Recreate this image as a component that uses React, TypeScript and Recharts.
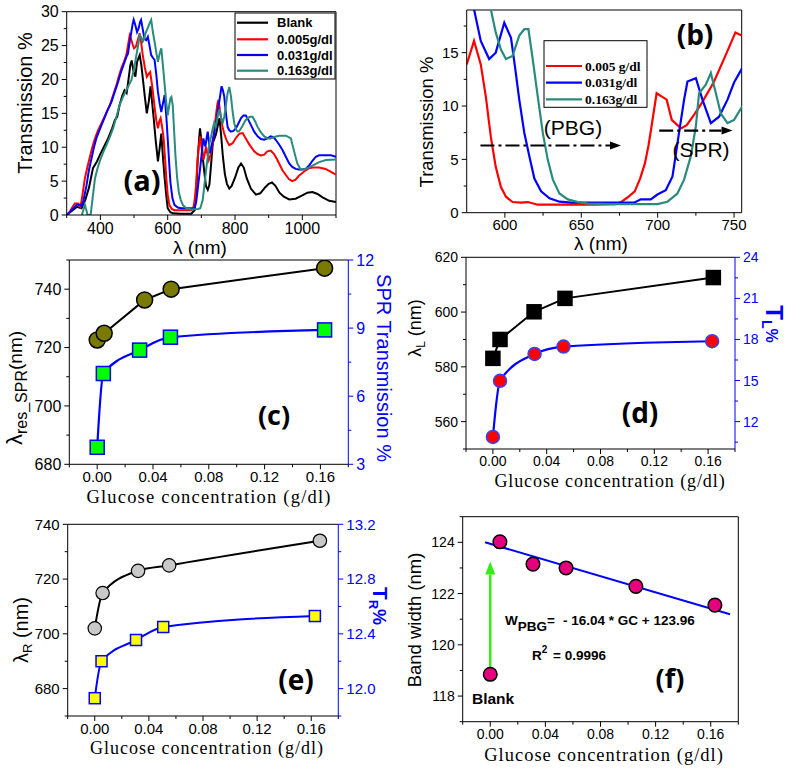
import React from 'react';
import { ComposedChart, Line, XAxis, YAxis, ReferenceLine } from 'recharts';

const SANS = '"Liberation Sans", Arial, sans-serif';
const SERIF = '"Liberation Serif", "Times New Roman", serif';
const BOLD_LETTER = '"Open Sans", "Liberation Sans", sans-serif';
const BLUE = '#0000ff';
const RED = '#ff0000';
const TEAL = '#2a8a7e';

// ---- panel (a): full spectra, [lambda nm, transmission %]
const blankA: number[][] = [
  [302, 0.1], [315, 0.6], [330, 1.2], [344, 1.0], [355, 2.2], [366, 4.0], [378, 6.9], [390, 7.9], [398, 8.8],
  [410, 10.0], [423, 11.3], [435, 12.8], [443, 14.0], [450, 14.5], [457, 16.2], [465, 17.6], [472, 18.4],
  [478, 18.0], [482, 19.4], [489, 22.1], [493, 22.8], [499, 21.1], [504, 20.4], [509, 22.6], [517, 23.6],
  [522, 22.0], [526, 20.2], [532, 17.5], [538, 15.0], [544, 16.8], [549, 19.0], [553, 17.0], [558, 14.5],
  [564, 11.2], [571, 7.9], [576, 9.8], [581, 12.0], [586, 8.5], [591, 5.4], [596, 2.8], [600, 1.0], [608, 0.4],
  [615, 0.25], [640, 0.2], [670, 0.2], [680, 0.7], [685, 3.5], [689, 8.1], [693, 11.0], [696, 12.8], [700, 11.0],
  [705, 8.1], [710, 5.8], [714, 4.2], [719, 3.7], [724, 4.5], [729, 7.5], [734, 10.6], [744, 12.0], [750, 13.5],
  [754, 14.3], [759, 11.6], [764, 8.6], [770, 6.0], [776, 4.6], [783, 3.9], [790, 4.3], [800, 5.5], [810, 7.0],
  [818, 7.6], [826, 7.0], [835, 5.4], [847, 3.9], [862, 3.0], [875, 3.2], [890, 4.1], [900, 4.6], [910, 4.8],
  [920, 4.3], [932, 3.3], [945, 2.7], [961, 2.3], [980, 2.4], [1000, 2.9], [1015, 3.3], [1030, 3.4], [1045, 3.1],
  [1060, 2.6], [1080, 2.1], [1100, 1.9],
];
const red005A: number[][] = [
  [300, 0], [305, 0.1], [315, 1.0], [324, 1.7], [334, 1.7], [341, 1.2], [347, 3.0], [354, 5.4], [362, 7.2],
  [369, 8.6], [376, 10.0], [384, 11.3], [393, 12.5], [403, 13.5], [415, 14.8], [428, 16.2], [438, 17.7],
  [448, 19.2], [455, 20.5], [462, 21.6], [470, 22.6], [477, 23.6], [482, 25.0], [487, 26.5], [491, 26.0],
  [495, 25.3], [500, 24.6], [505, 24.8], [511, 25.8], [517, 26.8], [521, 25.5], [526, 23.6], [532, 21.8],
  [538, 20.4], [543, 20.8], [548, 21.1], [554, 19.0], [561, 16.0], [566, 14.0], [571, 12.8], [575, 13.8],
  [579, 14.3], [584, 12.8], [588, 11.3], [592, 8.5], [596, 5.4], [600, 3.0], [605, 1.5], [612, 0.9], [620, 0.7],
  [640, 0.7], [670, 0.7], [676, 1.0], [680, 2.2], [684, 4.2], [688, 7.5], [692, 10.1], [697, 11.6], [701, 9.8],
  [706, 8.1], [710, 9.0], [714, 10.1], [718, 9.0], [722, 8.1], [728, 9.0], [734, 10.6], [739, 12.8], [744, 15.0],
  [748, 16.5], [751, 17.0], [755, 15.5], [758, 14.5], [763, 13.0], [768, 12.0], [775, 11.0], [783, 10.3],
  [793, 10.6], [803, 11.4], [813, 12.0], [823, 12.1], [832, 11.3], [840, 10.6], [847, 10.1], [857, 9.4],
  [867, 9.0], [877, 8.8], [887, 8.9], [896, 9.4], [906, 9.5], [916, 9.0], [924, 8.3], [931, 7.6], [941, 6.6],
  [951, 5.9], [960, 5.3], [970, 5.0], [980, 5.2], [990, 5.8], [1000, 6.2], [1010, 6.6], [1020, 6.9], [1030, 7.0],
  [1049, 7.0], [1069, 6.8], [1080, 6.5], [1094, 6.1], [1100, 6.0],
];
const blue031A: number[][] = [
  [300, 0], [310, 0.5], [320, 1.0], [330, 1.5], [339, 1.5], [345, 1.3], [350, 2.2], [359, 4.4], [366, 6.6],
  [374, 8.4], [381, 10.0], [388, 11.3], [398, 12.6], [408, 13.8], [420, 15.3], [433, 16.7], [443, 18.2],
  [453, 19.7], [462, 21.2], [472, 22.6], [477, 23.3], [482, 23.8], [487, 25.5], [492, 27.0], [496, 28.2],
  [499, 28.8], [504, 28.0], [509, 27.0], [514, 27.6], [518, 28.5], [521, 28.8], [526, 27.4], [531, 26.0],
  [536, 25.8], [541, 26.3], [546, 25.0], [551, 23.6], [556, 23.2], [561, 22.9], [566, 20.8], [571, 18.2],
  [576, 16.5], [581, 15.2], [586, 16.5], [591, 17.7], [596, 14.5], [600, 11.3], [604, 8.0], [608, 4.9],
  [614, 2.5], [620, 1.5], [630, 1.1], [640, 1.0], [680, 1.0], [685, 2.0], [690, 4.2], [695, 6.3], [699, 8.1],
  [703, 10.0], [706, 11.3], [709, 10.6], [712, 10.1], [716, 11.5], [719, 12.3], [723, 10.5], [726, 9.1],
  [730, 10.0], [734, 11.1], [740, 12.5], [744, 13.5], [749, 15.5], [754, 17.0], [760, 19.0], [764, 18.4],
  [768, 17.5], [773, 15.0], [778, 13.0], [783, 12.5], [788, 12.3], [795, 12.4], [803, 12.8], [810, 13.5],
  [818, 14.3], [825, 14.7], [832, 14.7], [840, 14.0], [847, 13.3], [857, 12.3], [867, 11.6], [877, 11.2],
  [887, 11.1], [896, 11.3], [906, 11.6], [914, 11.5], [921, 11.1], [931, 10.4], [941, 9.6], [951, 8.6],
  [961, 7.6], [970, 7.1], [980, 6.8], [990, 6.7], [1000, 6.7], [1010, 6.8], [1020, 7.3], [1030, 8.0],
  [1040, 8.6], [1050, 8.8], [1069, 8.8], [1085, 8.8], [1100, 8.6],
];
const teal163A: number[][] = [
  [345, 0], [350, 0.8], [354, 1.5], [358, 0.8], [362, 0], [371, 0], [377, 2.5], [384, 5.4], [391, 6.8],
  [398, 7.9], [408, 9.2], [418, 10.3], [428, 11.5], [438, 12.8], [447, 14.4], [457, 16.2], [467, 17.4],
  [477, 18.4], [485, 19.2], [492, 19.9], [500, 21.5], [507, 23.6], [512, 25.0], [517, 26.5], [522, 26.2],
  [526, 25.6], [530, 26.0], [534, 26.8], [539, 27.4], [544, 28.0], [548, 28.5], [551, 28.8], [556, 27.0],
  [561, 25.6], [566, 24.0], [571, 22.6], [576, 23.8], [581, 24.6], [586, 22.0], [591, 19.2], [596, 16.5],
  [600, 14.7], [604, 16.0], [608, 17.2], [611, 17.4], [615, 16.2], [619, 12.5], [623, 8.8], [628, 5.5],
  [633, 3.4], [639, 2.2], [645, 1.5], [655, 1.0], [670, 0.8], [690, 0.9], [697, 1.0], [704, 2.2], [709, 4.4],
  [714, 6.6], [719, 8.6], [724, 10.6], [729, 11.6], [734, 12.8], [738, 13.6], [742, 13.0], [746, 13.8],
  [750, 15.0], [754, 15.6], [758, 14.5], [763, 13.5], [768, 14.5], [773, 16.2], [778, 18.0], [783, 18.9],
  [788, 17.5], [793, 15.2], [798, 13.5], [803, 12.6], [808, 12.3], [813, 12.4], [823, 13.2], [830, 13.9],
  [837, 14.3], [845, 14.5], [852, 14.5], [860, 13.8], [867, 13.0], [877, 12.2], [887, 11.6], [897, 11.3],
  [906, 11.3], [916, 11.5], [931, 11.7], [951, 11.7], [966, 11.3], [975, 9.5], [985, 7.6], [995, 6.7],
  [1010, 6.8], [1030, 7.3], [1050, 7.8], [1070, 8.1], [1100, 8.2],
];

// ---- panel (b): zoom on the band gap
const red005B: number[][] = [
  [575, 13.9], [579.8, 16.1], [584.2, 13.9], [587.5, 10.9], [590.8, 7.1], [594, 4.3], [597.4, 2.4], [600.7, 1.5],
  [605, 1.0], [610.5, 0.94], [615, 1.0], [621.5, 0.75], [640, 0.75], [660, 0.75], [672, 0.8], [676, 1.0],
  [680, 1.4], [685, 2.0], [688.5, 3.2], [691.6, 4.6], [694, 6.3], [696, 8.1], [699.3, 11.2], [702.5, 10.9],
  [705.9, 10.6], [709.2, 8.7], [715.3, 7.9], [719, 8.2], [723.9, 9.2], [728.9, 10.3], [736.6, 12.2],
  [744.3, 14.7], [750.9, 16.9], [755, 16.6],
];
const blue031B: number[][] = [
  [576, 22], [579.8, 19.06], [584.2, 16.1], [589.7, 14.4], [594, 15.0], [599.6, 17.8], [604, 16.4], [606.6, 13.7],
  [609.4, 10.6], [612.7, 7.5], [616, 5.3], [619.3, 3.2], [623.7, 2.0], [629.2, 1.35], [635.7, 1.03],
  [643.4, 0.94], [660, 0.94], [684.5, 0.94], [689, 1.25], [695.5, 1.25], [699.8, 1.7], [705.3, 2.1],
  [709.7, 3.4], [714, 7.5], [717.3, 10.6], [719.5, 12.3], [725, 12.6], [729.3, 10.6], [734.8, 8.4],
  [740.2, 9.0], [745.7, 10.6], [750, 12.2], [755.5, 13.6],
];
const teal163B: number[][] = [
  [588, 21], [590.8, 19.06], [594, 16.9], [597.4, 15.3], [600.7, 14.4], [605, 14.7], [609.4, 16.6], [612.7, 17.2],
  [615.4, 17.2], [618.2, 14.4], [621.5, 10.9], [624.8, 7.5], [628, 5.0], [631.4, 3.1], [635.7, 1.8],
  [641.2, 1.25], [647.8, 1.0], [654.4, 0.85], [670, 0.8], [690, 0.8], [699.8, 0.8], [706.4, 1.03],
  [712.9, 1.8], [717.3, 3.1], [721.7, 5.3], [725, 8.1], [727.1, 11.2], [731.5, 12.0], [734.8, 13.1],
  [738.1, 11.2], [741.3, 9.3], [745.7, 8.4], [750, 8.7], [755.5, 10.0],
];
const pbgArrow = [{ x: 584, y: 6.3 }, { x: 676, y: 6.3 }];
const sprArrow = [{ x: 701, y: 7.7 }, { x: 749, y: 7.7 }];

// ---- panel (c)
const concC = [0, 0.005, 0.034, 0.053, 0.163];
const lambdaResC = [722.6, 724.9, 736.3, 740, 747.2];
const concSqC = [0, 0.0044, 0.0304, 0.0525, 0.163];
const sprTransC = [3.75, 7.0, 8.03, 8.6, 8.92];

// ---- panel (d)
const concD = [0, 0.0053, 0.0306, 0.0536, 0.1639];
const lambdaLD = [583.1, 590, 600.1, 605, 612.6];
const concRedD = [0, 0.0053, 0.031, 0.0525, 0.163];
const tLD = [10.88, 14.98, 16.94, 17.48, 17.87];

// ---- panel (e)
const concE = [0, 0.0058, 0.032, 0.055, 0.1664];
const lambdaRE = [702, 714.9, 723, 725, 734];
const concYelE = [0, 0.005, 0.0305, 0.0506, 0.1627];
const tRE = [11.93, 12.2, 12.355, 12.45, 12.53];

// ---- panel (f)
const concF = [0, 0.007, 0.031, 0.055, 0.1057, 0.163];
const bandF = [118.85, 124.02, 123.15, 123.0, 122.28, 121.55];
const fitConcF = [-0.0038, 0.174];
const fitBandF = [124.0, 121.19];
const blankArrow = [{ x: 0, y: 119.1 }, { x: 0, y: 123.25 }];

const GC_MAJOR = [0, 0.04, 0.08, 0.12, 0.16];
const GC_TICKS = [-0.02, 0, 0.02, 0.04, 0.06, 0.08, 0.1, 0.12, 0.14, 0.16, 0.18];

const toPts = (arr: number[][]) => arr.map(([x, y]) => ({ x, y }));
const zip = (xs: number[], ys: number[]) => xs.map((x, i) => ({ x, y: ys[i] }));

function tickFactory(side: 'bottom' | 'left' | 'right', majors: number[], fmt: (v: number) => string, fs: number, color = '#000') {
  return (p: any) => {
    const v = Number(p.payload.value);
    const isMajor = majors.some((m) => Math.abs(m - v) < 1e-6);
    const len = isMajor ? 5 : 3;
    const { x, y } = p;
    if (side === 'bottom') {
      return (
        <g>
          <line x1={x} y1={y} x2={x} y2={y + len} stroke={color} strokeWidth={1} />
          {isMajor && (
            <text x={x} y={y + 4.5 + fs * 0.88} textAnchor="middle" fontSize={fs} fontFamily={SANS} fill={color}>
              {fmt(v)}
            </text>
          )}
        </g>
      );
    }
    const dir = side === 'left' ? -1 : 1;
    return (
      <g>
        <line x1={x} y1={y} x2={x + dir * len} y2={y} stroke={color} strokeWidth={1} />
        {isMajor && (
          <text x={x + dir * 8} y={y + fs * 0.36} textAnchor={side === 'left' ? 'end' : 'start'} fontSize={fs} fontFamily={SANS} fill={color}>
            {fmt(v)}
          </text>
        )}
      </g>
    );
  };
}

const circleDot = (r: number, fill: string, stroke: string, sw = 1.5) => (p: any) => (
  <circle key={p.index} cx={p.cx} cy={p.cy} r={r} fill={fill} stroke={stroke} strokeWidth={sw} />
);
const squareDot = (s: number, fill: string, stroke: string) => (p: any) => (
  <rect key={p.index} x={p.cx - s / 2} y={p.cy - s / 2} width={s} height={s} fill={fill} stroke={stroke} strokeWidth={1.5} />
);

const arrowShape = (color: string, dash: string | undefined, width: number, head: number, half: number) => (p: any) => {
  const { x1, y1, x2, y2 } = p;
  const ang = Math.atan2(y2 - y1, x2 - x1);
  const bx = x2 - head * Math.cos(ang);
  const by = y2 - head * Math.sin(ang);
  const px = -Math.sin(ang) * half;
  const py = Math.cos(ang) * half;
  return (
    <g>
      <line x1={x1} y1={y1} x2={bx} y2={by} stroke={color} strokeWidth={width} strokeDasharray={dash} />
      <polygon points={`${x2},${y2} ${bx + px},${by + py} ${bx - px},${by - py}`} fill={color} />
    </g>
  );
};

const axisCommon = {
  type: 'number' as const,
  interval: 0 as const,
  allowDataOverflow: true,
  tickLine: false,
  tickSize: 0,
  tickMargin: 0,
};

const fmt0 = (v: number) => String(Math.round(v));
const fmt1 = (v: number) => v.toFixed(1);
const fmt2 = (v: number) => v.toFixed(2);

const pos = (x: number, y: number): React.CSSProperties => ({ position: 'absolute', left: x, top: y });

export default function App() {
  return (
    <div style={{ position: 'absolute', left: 0, top: 0, width: 787, height: 771, background: '#fff', overflow: 'hidden' }}>
      {/* (a) */}
      <div style={pos(0, 0)}>
        <ComposedChart width={393} height={250} margin={{ top: 11.7, left: 56.7, right: 57, bottom: 25 }}>
          <XAxis {...axisCommon} dataKey="x" domain={[300, 1100]} height={10}
            ticks={[300, 400, 500, 600, 700, 800, 900, 1000, 1100]}
            tick={tickFactory('bottom', [400, 600, 800, 1000], fmt0, 16)} axisLine={{ stroke: '#000' }} />
          <YAxis {...axisCommon} domain={[0, 30]} width={10}
            ticks={[0, 2.5, 5, 7.5, 10, 12.5, 15, 17.5, 20, 22.5, 25, 27.5, 30]}
            tick={tickFactory('left', [0, 5, 10, 15, 20, 25, 30], fmt0, 16)} axisLine={{ stroke: '#000' }} />
          <ReferenceLine y={30} stroke="#000" />
          <ReferenceLine x={1100} stroke="#000" />
          <Line data={toPts(blankA)} dataKey="y" stroke="#000" strokeWidth={2} dot={false} isAnimationActive={false} />
          <Line data={toPts(red005A)} dataKey="y" stroke={RED} strokeWidth={2} dot={false} isAnimationActive={false} />
          <Line data={toPts(blue031A)} dataKey="y" stroke={BLUE} strokeWidth={2} dot={false} isAnimationActive={false} />
          <Line data={toPts(teal163A)} dataKey="y" stroke={TEAL} strokeWidth={2} dot={false} isAnimationActive={false} />
        </ComposedChart>
      </div>

      {/* (b) */}
      <div style={pos(393, 0)}>
        <ComposedChart width={394} height={250} margin={{ top: 10, left: 63.7, right: 45.3, bottom: 27.3 }}>
          <XAxis {...axisCommon} dataKey="x" domain={[575, 755]} height={10}
            ticks={[600, 625, 650, 675, 700, 725, 750]}
            tick={tickFactory('bottom', [600, 650, 700, 750], fmt0, 15)} axisLine={{ stroke: '#000' }} />
          <YAxis {...axisCommon} domain={[0, 19]} width={10}
            ticks={[0, 2.5, 5, 7.5, 10, 12.5, 15, 17.5]}
            tick={tickFactory('left', [0, 5, 10, 15], fmt0, 15)} axisLine={{ stroke: '#000' }} />
          <ReferenceLine y={19} stroke="#000" />
          <ReferenceLine x={755} stroke="#000" />
          <Line data={toPts(red005B)} dataKey="y" stroke={RED} strokeWidth={2.2} dot={false} isAnimationActive={false} />
          <Line data={toPts(blue031B)} dataKey="y" stroke={BLUE} strokeWidth={2.2} dot={false} isAnimationActive={false} />
          <Line data={toPts(teal163B)} dataKey="y" stroke={TEAL} strokeWidth={2.2} dot={false} isAnimationActive={false} />
          <ReferenceLine segment={pbgArrow} shape={arrowShape('#000', '14 4 3 4', 2.2, 11, 4)} />
          <ReferenceLine segment={sprArrow} shape={arrowShape('#000', '14 4 3 4', 2.2, 11, 4)} />
        </ComposedChart>
      </div>

      {/* (c) */}
      <div style={pos(0, 250)}>
        <ComposedChart width={393} height={258} margin={{ top: 10, left: 59.3, right: 34.7, bottom: 33.7 }}>
          <XAxis {...axisCommon} dataKey="x" domain={[-0.02, 0.18]} height={10} ticks={GC_TICKS}
            tick={tickFactory('bottom', GC_MAJOR, fmt2, 15)} axisLine={{ stroke: '#000' }} />
          <YAxis {...axisCommon} yAxisId="l" domain={[680, 750]} width={10}
            ticks={[680, 690, 700, 710, 720, 730, 740, 750]}
            tick={tickFactory('left', [680, 700, 720, 740], fmt0, 16)} axisLine={{ stroke: '#000' }} />
          <YAxis {...axisCommon} yAxisId="r" orientation="right" domain={[3, 12]} width={10}
            ticks={[3, 4.5, 6, 7.5, 9, 10.5, 12]}
            tick={tickFactory('right', [3, 6, 9, 12], fmt0, 16, BLUE)} axisLine={{ stroke: BLUE }} />
          <ReferenceLine yAxisId="l" y={750} stroke="#000" />
          <Line yAxisId="l" data={zip(concC, lambdaResC)} dataKey="y" stroke="#000" strokeWidth={2}
            dot={circleDot(8, '#7a7a00', '#000')} isAnimationActive={false} />
          <Line yAxisId="r" type="monotone" data={zip(concSqC, sprTransC)} dataKey="y" stroke={BLUE} strokeWidth={2.2}
            dot={squareDot(14, '#00ff00', BLUE)} isAnimationActive={false} />
        </ComposedChart>
      </div>

      {/* (d) */}
      <div style={pos(393, 250)}>
        <ComposedChart width={394} height={258} margin={{ top: 7.3, left: 63, right: 42, bottom: 49 }}>
          <XAxis {...axisCommon} dataKey="x" domain={[-0.02, 0.18]} height={10} ticks={GC_TICKS}
            tick={tickFactory('bottom', GC_MAJOR, fmt2, 14)} axisLine={{ stroke: '#000' }} />
          <YAxis {...axisCommon} yAxisId="l" domain={[550, 620]} width={10}
            ticks={[550, 560, 570, 580, 590, 600, 610, 620]}
            tick={tickFactory('left', [560, 580, 600, 620], fmt0, 14)} axisLine={{ stroke: '#000' }} />
          <YAxis {...axisCommon} yAxisId="r" orientation="right" domain={[10, 24]} width={10}
            ticks={[10.5, 12, 13.5, 15, 16.5, 18, 19.5, 21, 22.5, 24]}
            tick={tickFactory('right', [12, 15, 18, 21, 24], fmt0, 14, BLUE)} axisLine={{ stroke: BLUE }} />
          <ReferenceLine yAxisId="l" y={620} stroke="#000" />
          <Line yAxisId="l" data={zip(concD, lambdaLD)} dataKey="y" stroke="#000" strokeWidth={2}
            dot={squareDot(14, '#000', '#000')} isAnimationActive={false} />
          <Line yAxisId="r" type="monotone" data={zip(concRedD, tLD)} dataKey="y" stroke={BLUE} strokeWidth={2.2}
            dot={circleDot(6.5, RED, '#3344ff')} isAnimationActive={false} />
        </ComposedChart>
      </div>

      {/* (e) */}
      <div style={pos(0, 508)}>
        <ComposedChart width={393} height={263} margin={{ top: 16.3, left: 57.7, right: 44.7, bottom: 45 }}>
          <XAxis {...axisCommon} dataKey="x" domain={[-0.02, 0.18]} height={10} ticks={GC_TICKS}
            tick={tickFactory('bottom', GC_MAJOR, fmt2, 15)} axisLine={{ stroke: '#000' }} />
          <YAxis {...axisCommon} yAxisId="l" domain={[670, 740]} width={10}
            ticks={[670, 680, 690, 700, 710, 720, 730, 740]}
            tick={tickFactory('left', [680, 700, 720, 740], fmt0, 15)} axisLine={{ stroke: '#000' }} />
          <YAxis {...axisCommon} yAxisId="r" orientation="right" domain={[11.8, 13.2]} width={10}
            ticks={[11.8, 12.0, 12.2, 12.4, 12.6, 12.8, 13.0, 13.2]}
            tick={tickFactory('right', [12.0, 12.4, 12.8, 13.2], fmt1, 15, BLUE)} axisLine={{ stroke: BLUE }} />
          <ReferenceLine yAxisId="l" y={740} stroke="#000" />
          <Line yAxisId="l" type="monotone" data={zip(concE, lambdaRE)} dataKey="y" stroke="#000" strokeWidth={2}
            dot={circleDot(6.7, '#c8c8c8', '#000', 1.2)} isAnimationActive={false} />
          <Line yAxisId="r" type="monotone" data={zip(concYelE, tRE)} dataKey="y" stroke={BLUE} strokeWidth={2}
            dot={squareDot(11, '#ffff00', BLUE)} isAnimationActive={false} />
        </ComposedChart>
      </div>

      {/* (f) */}
      <div style={pos(393, 508)}>
        <ComposedChart width={394} height={263} margin={{ top: 8.7, left: 59.7, right: 48.7, bottom: 39.3 }}>
          <XAxis {...axisCommon} dataKey="x" domain={[-0.02, 0.18]} height={10} ticks={GC_TICKS}
            tick={tickFactory('bottom', GC_MAJOR, fmt2, 14)} axisLine={{ stroke: '#000' }} />
          <YAxis {...axisCommon} domain={[117, 125]} width={10}
            ticks={[117, 118, 119, 120, 121, 122, 123, 124, 125]}
            tick={tickFactory('left', [118, 120, 122, 124], fmt0, 14)} axisLine={{ stroke: '#000' }} />
          <ReferenceLine y={125} stroke="#000" />
          <ReferenceLine x={0.18} stroke="#000" />
          <ReferenceLine segment={blankArrow} shape={arrowShape('#33ee11', undefined, 2.5, 13, 5)} />
          <Line data={zip(fitConcF, fitBandF)} dataKey="y" stroke={BLUE} strokeWidth={2} dot={false} isAnimationActive={false} />
          <Line data={zip(concF, bandF)} dataKey="y" stroke="none" dot={circleDot(6.8, '#e5007e', '#000')} isAnimationActive={false} />
        </ComposedChart>
      </div>

      {/* labels, legends and panel letters */}
      <svg width={787} height={771} style={{ position: 'absolute', left: 0, top: 0, pointerEvents: 'none' }}>
        {/* legend (a) */}
        <rect x={235} y={13} width={100} height={66} fill="#fff" stroke="#000" strokeWidth={1} />
        {[
          ['Blank', '#000', 22.7],
          ['0.005g/dl', RED, 39.3],
          ['0.031g/dl', BLUE, 55],
          ['0.163g/dl', TEAL, 70.7],
        ].map(([t, c, y]) => (
          <g key={t as string}>
            <line x1={237} x2={268} y1={y as number} y2={y as number} stroke={c as string} strokeWidth={2.2} />
            <text x={277} y={(y as number) + 4.5} fontSize={13} fontWeight="bold" fontFamily={SANS}>{t}</text>
          </g>
        ))}
        {/* legend (b) */}
        <rect x={544} y={40.7} width={103} height={66.6} fill="#fff" stroke="#000" strokeWidth={1} />
        {[
          ['0.005 g/dl', RED, 66],
          ['0.031g/dl', BLUE, 82.7],
          ['0.163g/dl', TEAL, 99.3],
        ].map(([t, c, y]) => (
          <g key={t as string}>
            <line x1={546} x2={582} y1={y as number} y2={y as number} stroke={c as string} strokeWidth={2.2} />
            <text x={585} y={(y as number) + 4.5} fontSize={13.5} fontWeight="bold" fontFamily={SERIF}>{t}</text>
          </g>
        ))}
        <text x={573} y={135} textAnchor="middle" fontSize={21} fontFamily={SANS}>(PBG)</text>
        <text x={701} y={157} textAnchor="middle" fontSize={21} fontFamily={SANS}>(SPR)</text>

        {/* axis titles */}
        <text transform="translate(32,103) rotate(-90)" textAnchor="middle" fontSize={20} fontFamily={SANS}>Transmission %</text>
        <text x={200} y={254} textAnchor="middle" fontSize={19} fontFamily={SANS}>λ (nm)</text>
        <text transform="translate(433,122) rotate(-90)" textAnchor="middle" fontSize={18.5} fontFamily={SANS}>Transmission %</text>
        <text x={601} y={250} textAnchor="middle" fontSize={19} fontFamily={SANS}>λ (nm)</text>

        <text transform="translate(22,388) rotate(-90)" textAnchor="middle" fontFamily={SANS}>
          <tspan fontSize={22}>λ</tspan>
          <tspan fontSize={16} dy={5}>res_SPR</tspan>
          <tspan fontSize={19} dy={-5}>(nm)</tspan>
        </text>
        <text transform="translate(377,368) rotate(90)" textAnchor="middle" fontSize={20} fontFamily={SANS} fill={BLUE}>SPR Transmission %</text>
        <text x={209} y={502.5} textAnchor="middle" fontSize={18.5} letterSpacing={1.2} fontFamily={SERIF}>Glucose concentration (g/dl)</text>

        <text transform="translate(421,328) rotate(-90)" textAnchor="middle" fontFamily={SANS}>
          <tspan fontSize={18}>λ</tspan>
          <tspan fontSize={12} dy={4}>L</tspan>
          <tspan fontSize={18} dy={-4}> (nm)</tspan>
        </text>
        <text transform="translate(766,324) rotate(90)" textAnchor="middle" fontFamily={SANS} fill={BLUE} fontWeight="bold">
          <tspan fontSize={24}>T</tspan>
          <tspan fontSize={14} dy={4}>L</tspan>
          <tspan fontSize={16} dy={-4}>%</tspan>
        </text>
        <text x={610} y={487} textAnchor="middle" fontSize={18} letterSpacing={0.9} fontFamily={SERIF}>Glucose concentration (g/dl)</text>

        <text transform="translate(28,630) rotate(-90)" textAnchor="middle" fontFamily={SANS}>
          <tspan fontSize={20}>λ</tspan>
          <tspan fontSize={13} dy={4}>R</tspan>
          <tspan fontSize={20} dy={-4}> (nm)</tspan>
        </text>
        <text transform="translate(373,606) rotate(90)" textAnchor="middle" fontFamily={SANS} fill={BLUE} fontWeight="bold">
          <tspan fontSize={21}>T</tspan>
          <tspan fontSize={13} dy={4}>R</tspan>
          <tspan fontSize={18} dy={-4}>%</tspan>
        </text>
        <text x={207} y={753.5} textAnchor="middle" fontSize={18} letterSpacing={1} fontFamily={SERIF}>Glucose concentration (g/dl)</text>

        <text transform="translate(421,620) rotate(-90)" textAnchor="middle" fontSize={18.5} fontFamily={SANS}>Band width (nm)</text>
        <text x={604} y={761} textAnchor="middle" fontSize={18.5} letterSpacing={1} fontFamily={SERIF}>Glucose concentration (g/dl)</text>

        {/* (f) annotations */}
        <text x={505} y={625} fontSize={13.5} fontWeight="bold" fontFamily={SANS}>
          <tspan>W</tspan>
          <tspan dy={6}>PBG</tspan>
          <tspan dy={-6}>=</tspan>
          <tspan x={563}>- 16.04 * GC + 123.96</tspan>
        </text>
        <text x={532} y={659.5} fontSize={13.5} fontWeight="bold" fontFamily={SANS}>
          <tspan>R</tspan>
          <tspan fontSize={10} dy={-7}>2</tspan>
          <tspan x={553} dy={7}>= 0.9996</tspan>
        </text>
        <text x={472} y={704} fontSize={15.5} fontWeight="bold" fontFamily={SANS}>Blank</text>

        {/* panel letters */}
        <text x={142} y={191} textAnchor="middle" fontSize={29} fontWeight="bold" fontFamily={BOLD_LETTER}>(a)</text>
        <text x={695} y={45} textAnchor="middle" fontSize={28} fontWeight="bold" fontFamily={BOLD_LETTER}>(b)</text>
        <text x={274} y={425} textAnchor="middle" fontSize={27} fontWeight="bold" fontFamily={BOLD_LETTER}>(c)</text>
        <text x={640} y={423} textAnchor="middle" fontSize={28} fontWeight="bold" fontFamily={BOLD_LETTER}>(d)</text>
        <text x={296} y={690} textAnchor="middle" fontSize={28} fontWeight="bold" fontFamily={BOLD_LETTER}>(e)</text>
        <text x={670} y={688} textAnchor="middle" fontSize={27} fontWeight="bold" fontFamily={BOLD_LETTER}>(f)</text>
      </svg>
    </div>
  );
}
